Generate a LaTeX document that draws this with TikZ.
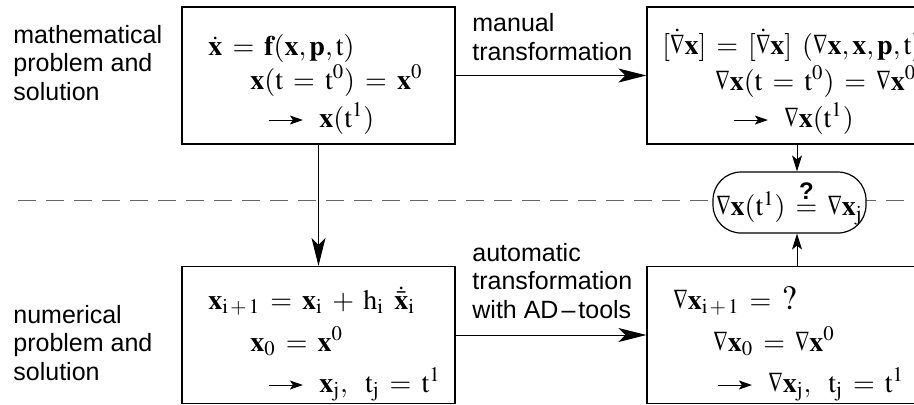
\documentclass[tikz,border=0pt]{standalone}
\usepackage{mathptmx}
\usepackage[no-math]{fontspec}
\setmainfont{Liberation Sans}
\usetikzlibrary{arrows.meta}
\thickmuskip=6.5mu plus 2mu
\medmuskip=6mu plus 2mu

\newcommand{\yields}{\tikz[baseline=-3.5pt]\draw[line width=0.5pt,-{Stealth[length=6.5pt,width=4.5pt,inset=1.5pt]}] (0,0) -- (17pt,0);}
\newcommand{\grad}{\mathord{\scalebox{0.72}[1]{$\nabla$}}}

\begin{document}
\begin{tikzpicture}[x=0.5pt,y=-0.5pt,
	box/.style={draw,line width=0.6pt,minimum width=136.5pt,minimum height=68.5pt,inner sep=0pt},
	eq/.style={anchor=base west,inner sep=0pt,font=\fontsize{14}{16}\selectfont},
	lbl/.style={anchor=base west,inner sep=0pt,align=left,font=\fontsize{12.5}{14.25}\selectfont},
	big/.style={-{Stealth[length=14pt,width=7pt,inset=3.5pt]},line width=0.5pt},
	small/.style={-{Stealth[length=8pt,width=5pt,inset=2pt]},line width=0.5pt}]
	\useasboundingbox (0,0) rectangle (914,404);
	\coordinate (dl) at (18,200);
	\coordinate (dr) at (914,200);
	\draw [black!60,line width=0.5pt,dash pattern=on 9pt off 5pt] (dl) -- (dr);
	\node[box] (mbox) at (318.5,75.5) {};
	\node[box] (mgrad) at (783.5,75.5) {};
	\node[box] (nbox) at (318.5,335) {};
	\node[box] (ngrad) at (783.5,335) {};
	\node[draw,line width=0.6pt,fill=white,rounded corners=14pt,minimum width=76.5pt,minimum height=30.5pt,inner sep=0pt,font=\fontsize{14}{16}\selectfont] (check) at (789.5,202.5)
		{$\grad\mathbf{x}(\mathrm{t}^1)\stackrel{\hbox{\fontsize{12}{12}\selectfont\bfseries ?}}{=}\grad\mathbf{x}_\mathrm{j}$};
	\node[lbl] (mlbl) at (13,100) {mathematical\\problem and\\solution};
	\node[lbl] (nlbl) at (13,380) {numerical\\problem and\\solution};
	\node[lbl] (manual) at (472,60) {manual\\transformation};
	\node[lbl] (auto) at (472,318) {automatic\\transformation\\with AD\kern1.5pt--\kern1.5pt tools};
	\node[eq] (m1) at (208,55) {$\dot{\mathbf{x}} = \mathbf{f}(\mathbf{x},\mathbf{p},\mathrm{t})$};
	\node[eq] (m2) at (250,89) {$\mathbf{x}(\mathrm{t} = \mathrm{t}^0) = \mathbf{x}^0$};
	\node[eq] (m3) at (268,127) {\yields\hspace{8pt}$\mathbf{x}(\mathrm{t}^1)$};
	\node[eq] (g1) at (662,54) {$[\dot{\grad}\mathbf{x}] = [\dot{\grad}\mathbf{x}]\;(\grad\mathbf{x},\mathbf{x},\mathbf{p},\mathrm{t})$};
	\node[eq] (g2) at (715,90) {$\grad\mathbf{x}(\mathrm{t} = \mathrm{t}^0) = \grad\mathbf{x}^0$};
	\node[eq] (g3) at (733,127) {\yields\hspace{8pt}$\grad\mathbf{x}(\mathrm{t}^1)$};
	\node[eq] (n1) at (208,309) {$\mathbf{x}_{\mathrm{i}\,+\,1} = \mathbf{x}_\mathrm{i} + \mathrm{h}_\mathrm{i}\;\dot{\bar{\mathbf{x}}}_\mathrm{i}$};
	\node[eq] (n2) at (250,351) {$\mathbf{x}_0 = \mathbf{x}^0$};
	\node[eq] (n3) at (268,392) {\yields\hspace{8pt}$\mathbf{x}_\mathrm{j},\mskip9mu\mathrm{t}_\mathrm{j} = \mathrm{t}^1$};
	\node[eq] (h1) at (673,309) {$\grad\mathbf{x}_{\mathrm{i}\,+\,1} = \hbox{\fontsize{17}{17}\selectfont$\mathrm{?}$}$};
	\node[eq] (h2) at (713,351) {$\grad\mathbf{x}_0 = \grad\mathbf{x}^0$};
	\node[eq] (h3) at (717,392) {\yields\hspace{8pt}$\grad\mathbf{x}_\mathrm{j},\mskip9mu\mathrm{t}_\mathrm{j} = \mathrm{t}^1$};
	\coordinate (tap) at (797,202);
	\draw [big] (mbox) -- (mgrad);
	\draw [big] (nbox) -- (ngrad);
	\draw [big] (mbox) -- (nbox);
	\draw [small] (mgrad.south -| tap) -- (check.north -| tap);
	\draw [small] (ngrad.north -| tap) -- (check.south -| tap);
\end{tikzpicture}
\end{document}
